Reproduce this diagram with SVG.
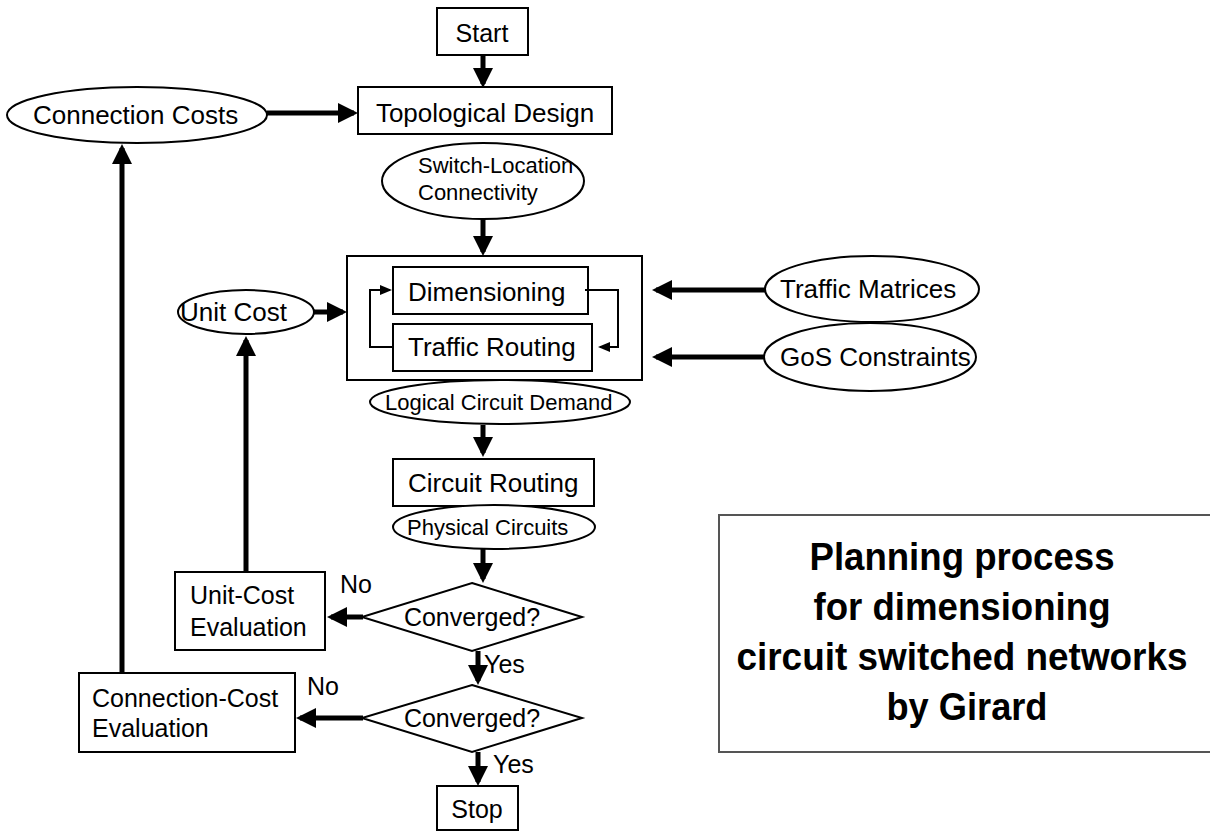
<svg xmlns="http://www.w3.org/2000/svg" width="1210" height="832" viewBox="0 0 1210 832">
<style>
text{font-family:"Liberation Sans",Arial,sans-serif;fill:#000}
.l{font-size:26px}
.m{font-size:25px}
.s{font-size:22px}
.box{fill:#fff;stroke:#000;stroke-width:2}
.thick{stroke:#000;stroke-width:5;fill:none}
.thin{stroke:#000;stroke-width:2;fill:none}
.title{font-family:"Liberation Sans",Arial,sans-serif;font-weight:bold;font-size:38px;text-anchor:middle}
</style>
<defs>
<marker id="ah" markerWidth="4" markerHeight="4" refX="3.2" refY="2" orient="auto" markerUnits="strokeWidth"><path d="M0,0 L4,2 L0,4 z" fill="#000"/></marker>
<marker id="ahs" markerWidth="6" markerHeight="6" refX="5" refY="3" orient="auto" markerUnits="strokeWidth"><path d="M0,0.5 L6,3 L0,5.5 z" fill="#000"/></marker>
</defs>
<g id="start"><rect class="box" x="437" y="8" width="91" height="47"/><text class="m" x="482" y="42" text-anchor="middle">Start</text></g>
<g id="topological-design"><rect class="box" x="358" y="87" width="254" height="47"/><text class="l" x="485" y="122" text-anchor="middle">Topological Design</text></g>
<g id="connection-costs"><ellipse class="box" cx="137" cy="115" rx="130" ry="28"/><text class="l" x="33" y="124">Connection Costs</text></g>
<g id="switch-location"><ellipse class="box" cx="483" cy="181" rx="101" ry="38"/><text class="s" x="418" y="173">Switch-Location</text><text class="s" x="418" y="200">Connectivity</text></g>
<g id="dim-routing"><rect class="box" x="347" y="256" width="295" height="124"/></g>
<g id="dimensioning"><rect class="box" x="393" y="267" width="195" height="47"/><text class="l" x="408" y="301">Dimensioning</text></g>
<g id="traffic-routing"><rect class="box" x="393" y="324" width="199" height="47"/><text class="l" x="408" y="356">Traffic Routing</text></g>
<g id="unit-cost"><ellipse class="box" cx="246" cy="312" rx="68" ry="22"/><text class="l" x="180" y="321">Unit Cost</text></g>
<g id="traffic-matrices"><ellipse class="box" cx="872" cy="289" rx="107" ry="33"/><text class="l" x="780" y="298">Traffic Matrices</text></g>
<g id="gos-constraints"><ellipse class="box" cx="870" cy="357" rx="106" ry="34"/><text class="l" x="780" y="366">GoS Constraints</text></g>
<g id="logical-circuit-demand"><ellipse class="box" cx="500" cy="402" rx="130" ry="22"/><text class="s" x="385" y="410">Logical Circuit Demand</text></g>
<g id="circuit-routing"><rect class="box" x="393" y="459" width="201" height="47"/><text class="l" x="408" y="492">Circuit Routing</text></g>
<g id="physical-circuits"><ellipse class="box" cx="494" cy="527" rx="101" ry="22"/><text class="s" x="407" y="535">Physical Circuits</text></g>
<g id="converged-1"><polygon class="box" points="472,583 582,617 472,651 362,617"/><text class="m" x="472" y="626" text-anchor="middle">Converged?</text></g>
<g id="unit-cost-evaluation"><rect class="box" x="175" y="572" width="150" height="78"/><text class="m" x="190" y="604">Unit-Cost</text><text class="m" x="190" y="636">Evaluation</text></g>
<g id="converged-2"><polygon class="box" points="472,685 582,718 472,752 362,718"/><text class="m" x="472" y="727" text-anchor="middle">Converged?</text></g>
<g id="connection-cost-evaluation"><rect class="box" x="79" y="673" width="216" height="79"/><text class="m" x="92" y="707">Connection-Cost</text><text class="m" x="92" y="737">Evaluation</text></g>
<g id="stop"><rect class="box" x="437" y="786" width="81" height="44"/><text class="m" x="477" y="818" text-anchor="middle">Stop</text></g>
<g id="connectors">
<line class="thick" x1="483" y1="55" x2="483" y2="84" marker-end="url(#ah)"/>
<line class="thick" x1="267" y1="113" x2="354" y2="113" marker-end="url(#ah)"/>
<line class="thick" x1="483" y1="219" x2="483" y2="252" marker-end="url(#ah)"/>
<line class="thick" x1="314" y1="312" x2="343" y2="312" marker-end="url(#ah)"/>
<line class="thick" x1="765" y1="290" x2="656" y2="290" marker-end="url(#ah)"/>
<line class="thick" x1="765" y1="357" x2="656" y2="357" marker-end="url(#ah)"/>
<polyline class="thin" points="393,347 370,347 370,290 390,290" marker-end="url(#ahs)"/>
<polyline class="thin" points="585,290 618,290 618,347 600,347" marker-end="url(#ahs)"/>
<line class="thick" x1="483" y1="425" x2="483" y2="453" marker-end="url(#ah)"/>
<line class="thick" x1="483" y1="549" x2="483" y2="579" marker-end="url(#ah)"/>
<line class="thick" x1="363" y1="617" x2="331" y2="617" marker-end="url(#ah)"/>
<line class="thick" x1="246" y1="572" x2="246" y2="340" marker-end="url(#ah)"/>
<line class="thick" x1="478" y1="651" x2="478" y2="681" marker-end="url(#ah)"/>
<line class="thick" x1="363" y1="718" x2="300" y2="718" marker-end="url(#ah)"/>
<line class="thick" x1="122" y1="673" x2="122" y2="148" marker-end="url(#ah)"/>
<line class="thick" x1="478" y1="752" x2="478" y2="782" marker-end="url(#ah)"/>
</g>
<g id="labels">
<text class="m" x="340" y="593">No</text>
<text class="m" x="307" y="695">No</text>
<text class="m" x="484" y="673">Yes</text>
<text class="m" x="493" y="773">Yes</text>
</g>
<g id="title">
<path d="M1210,515 L719,515 L719,752 L1210,752" fill="none" stroke="#555" stroke-width="2"/>
<text class="title" x="962" y="570" textLength="305" lengthAdjust="spacingAndGlyphs">Planning process</text>
<text class="title" x="962" y="620" textLength="297" lengthAdjust="spacingAndGlyphs">for dimensioning</text>
<text class="title" x="962" y="670" textLength="451" lengthAdjust="spacingAndGlyphs">circuit switched networks</text>
<text class="title" x="967" y="720" textLength="161" lengthAdjust="spacingAndGlyphs">by Girard</text>
</g>
</svg>
